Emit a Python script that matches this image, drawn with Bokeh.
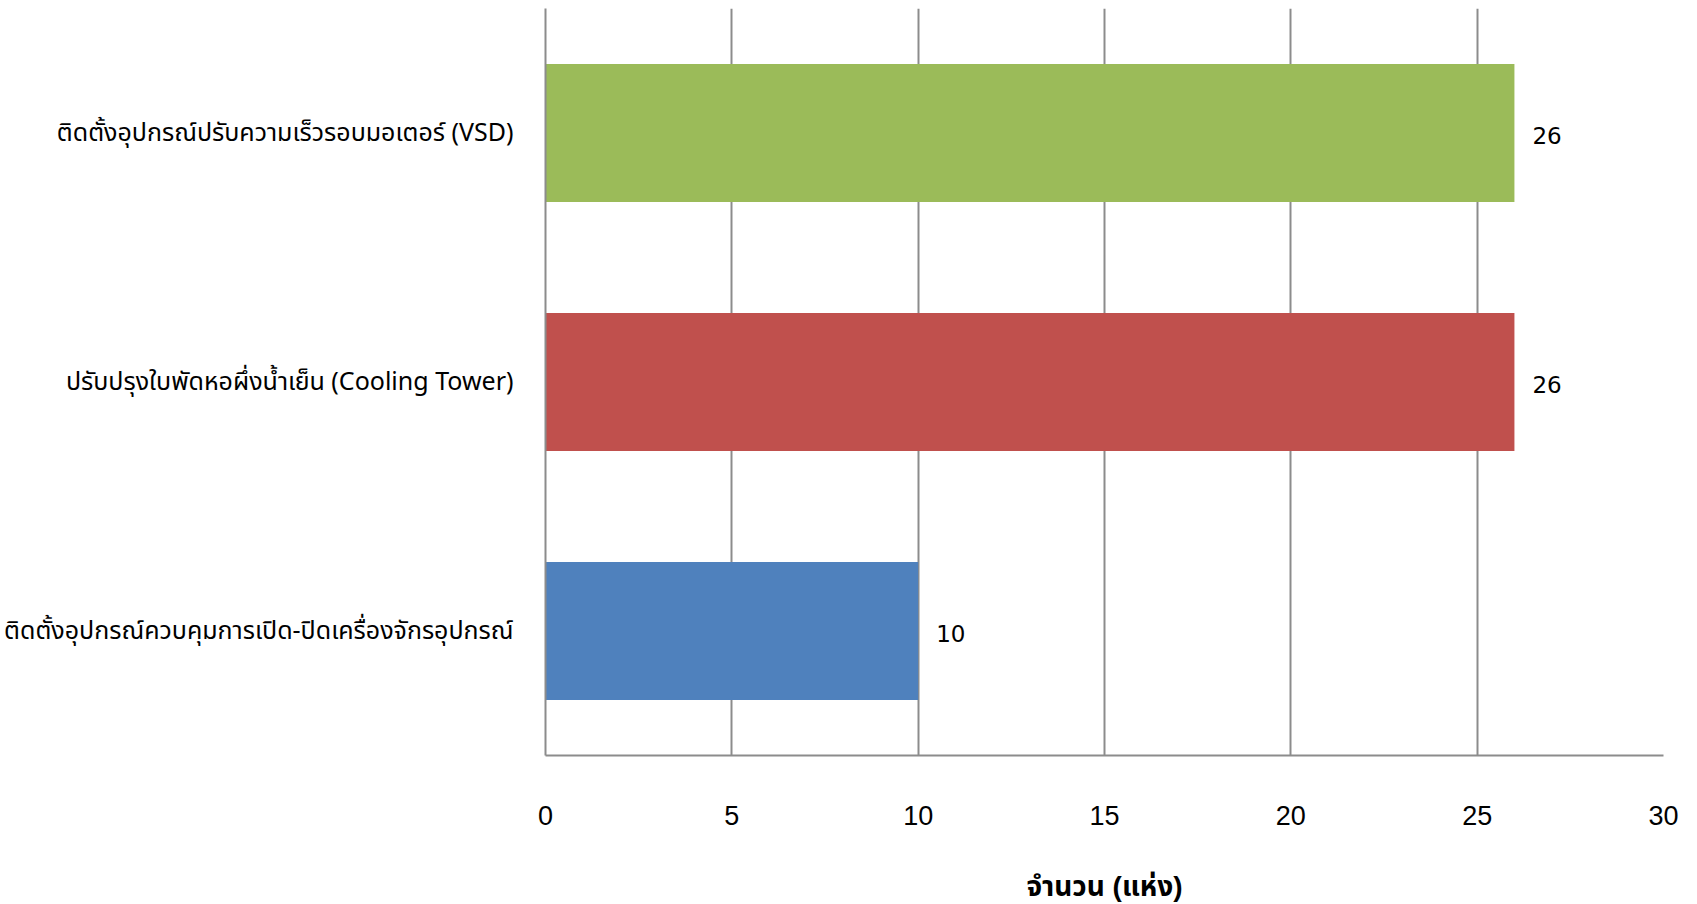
from bokeh.plotting import figure
from bokeh.models import Range1d, FactorRange, ColumnDataSource, FixedTicker
from bokeh.embed import file_html
from bokeh.resources import INLINE
from bokeh.core.properties import value

categories = [
    "ติดตั้งอุปกรณ์ควบคุมการเปิด-ปิดเครื่องจักรอุปกรณ์",
    "ปรับปรุงใบพัดหอผึ่งน้ำเย็น (Cooling Tower)",
    "ติดตั้งอุปกรณ์ปรับความเร็วรอบมอเตอร์ (VSD)",
]
counts = [10, 26, 26]
colors = ["#4F81BD", "#C0504D", "#9BBB59"]
x_ticks = [0, 5, 10, 15, 20, 25, 30]
x_title = "จำนวน (แห่ง)"

src = ColumnDataSource(dict(cat=categories, val=counts, color=colors,
                            lab=[str(v) for v in counts]))

p = figure(width=1689, height=904, output_backend="svg", toolbar_location=None,
           y_range=FactorRange(factors=categories, range_padding=0),
           x_range=Range1d(0, 30),
           min_border_left=545, min_border_right=26, min_border_top=8, min_border_bottom=149)
p.outline_line_color = None
p.background_fill_color = "white"

p.hbar(y="cat", right="val", left=0, height=0.555, color="color", source=src, line_color=None)
p.text(x="val", y="cat", text="lab", source=src, x_offset=18, y_offset=2, text_baseline="middle",
       text_align="left", text_font=value("DejaVu Sans"), text_font_size="23px", text_color="black")

p.xaxis.ticker = FixedTicker(ticks=x_ticks)
p.xaxis.axis_line_color = "#8c8c8c"
p.xaxis.axis_line_width = 2
p.xaxis.major_tick_line_color = None
p.xaxis.minor_tick_line_color = None
p.xaxis.major_label_standoff = 44
p.xaxis.major_label_text_font = "Liberation Sans"
p.xaxis.major_label_text_font_size = "27px"
p.xaxis.major_label_text_color = "black"
p.xaxis.axis_label = x_title
p.xaxis.axis_label_standoff = 43
p.xaxis.axis_label_text_font = "Liberation Sans, Noto Sans Thai, sans-serif"
p.xaxis.axis_label_text_font_size = "28px"
p.xaxis.axis_label_text_font_style = "bold"
p.xaxis.axis_label_text_color = "black"

p.yaxis.axis_line_color = "#8c8c8c"
p.yaxis.axis_line_width = 2
p.yaxis.major_tick_line_color = None
p.yaxis.minor_tick_line_color = None
p.yaxis.major_label_standoff = 26
p.yaxis.major_label_text_font = "Noto Sans Thai, Tahoma, sans-serif"
p.yaxis.major_label_text_font_size = "25px"
p.yaxis.major_label_text_color = "black"

p.xgrid.ticker = FixedTicker(ticks=x_ticks)
p.xgrid.grid_line_color = "#8c8c8c"
p.xgrid.grid_line_width = 2
p.ygrid.grid_line_color = None

open("out.html", "w").write(file_html(p, INLINE))
